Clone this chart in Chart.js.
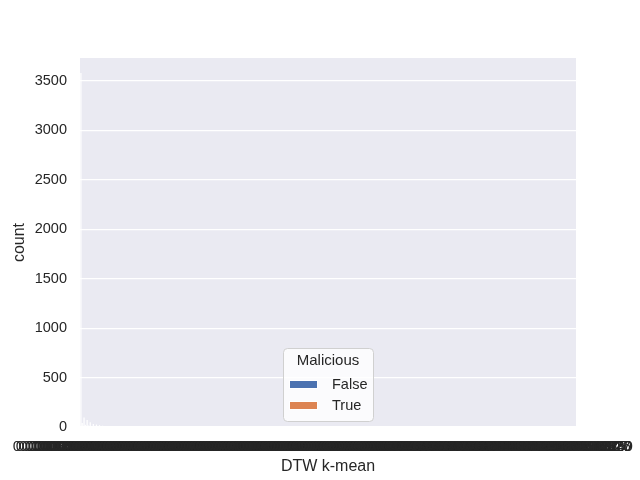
<!DOCTYPE html>
<html><head><meta charset="utf-8">
<script src="https://cdn.jsdelivr.net/npm/chart.js@4.4.1/dist/chart.umd.min.js"></script>
<style>html,body{margin:0;padding:0;background:#fff}canvas{display:block}</style>
</head><body>
<canvas id="c" width="640" height="480"></canvas>
<script>
const categories = [
"0.000000000000000","0.000412587630915","0.000827361904528","0.001245873619284","0.001690452378106",
"0.002318475902163","0.002874106395247","0.003507126834951","0.004136958207413","0.004812369027415",
"0.005391740862853","0.005973412685034","0.006548230197645","0.007124580396217","0.007751064829358",
"0.008369015742836","0.008953702416589","0.009547213068492","0.010108594327617","0.010683427195304",
"0.011792360548129","0.012904715368241","0.013561482907643","0.014237860915472","0.015408273691504",
"0.016583092741165","0.017649381025736","0.018720463159832","0.020031586724913","0.021346907582419",
"0.022630148795267","0.023917460582136","0.025162093847501","0.026408157329684","0.027785630914827",
"0.029163840275913","0.030867259431086","0.032571094863207","0.034198753620419","0.035829461027538",
"0.037502816943275","0.039184702536918","0.040958361720483","0.042736819054326","0.044663205891734",
"0.046592013874125","0.048453897120653","0.050318746290584","0.052610495837216","0.054907132865401",
"0.057083627491058","0.059264813079652","0.061550498236714","0.063841257903146","0.066174036289517",
"0.068513490627839","0.071085729364102","0.073659128043715","0.076333547810624","0.079012846357291",
"0.081683219570348","0.084357920146863","0.087240186395027","0.090126475830492","0.093253860417925",
"0.096384712059376","0.099564839207153","0.102749360821547","0.106165827309412","0.109586214730269",
"0.113206539481726","0.116830472965103","0.120567294013856","0.124307815692748","0.128236750418693",
"0.132168904753216","0.136379028564137","0.140593276108435","0.144903617285049","0.149217063845912",
"0.153927401685273","0.158640932175408","0.163469035286194","0.168302741956831","0.173462015839627",
"0.178625904137582","0.184047362819504","0.189473016285947","0.195142830571629","0.200816395742061",
"0.206786250193847","0.212759380416325","0.219037465128953","0.225318647092153","0.231860927415036",
"0.238406951273864","0.245293627058419","0.252183497605128","0.259375820461937","0.266571039824613",
"0.274151283960427","0.281734692058317","0.289673015842736","0.297615803427169","0.305910275368041",
"0.314208576931042","0.322927651084319","0.331650298417356","0.340737102685493","0.349827613059284",
"0.359380264917503","0.368935071246815","0.378847290563148","0.388764320591723","0.399136508247961",
"0.409512873064189","0.420342795610873","0.431176045982316","0.442481036725948","0.453789216304857",
"0.465548310927364","0.477312058649132","0.48957640291358","0.501846392718504","0.51461738295062",
"0.527391640852973","0.54065430921847","0.553920781364025","0.56767530184926","0.581437065298147",
"0.59570842610937","0.609985312476083","0.62475017398265","0.639520874103659","0.65483106247319",
"0.670143695821734","0.68598271059364","0.701825309467152","0.71821672940385","0.734612958031476",
"0.75154208316927","0.768479213650894","0.78602318475906","0.803571046298315","0.82164309527184",
"0.839720564813297","0.85838120649573","0.877046318592601","0.89628941730526","0.915538027641389",
"0.93536218574093","0.955190734826057","0.97551689240317","0.995847162059324","1.0167305918427",
"1.037614892305716","1.0590738146285","1.08053927614830","1.1026109473820","1.124683015927"
];
const falseCounts = [
3580,95,70,48,30,25,18,12,8,5, 3,2,2,1,1,1,1,1,1,1,
1,1,1,1,1,1,1,1,1,1, 1,1,1,1,1,1,1,1,1,1,
1,1,1,1,1,1,1,1,1,1, 1,1,1,1,1,1,1,1,1,1,
1,1,1,1,1,1,1,1,1,1, 1,1,1,1,1,1,1,1,1,1,
1,1,1,1,1,1,1,1,1,1, 1,1,1,1,1,1,1,1,1,1,
1,1,1,1,1,1,1,1,1,1, 1,1,1,1,1,1,1,1,1,1,
1,1,1,1,1,1,1,1,1,1, 1,1,1,1,1,1,1,1,1,1,
1,1,1,1,1,1,1,1,1,1, 1,1,1,1,1,1,1,1,1,1
];
const trueCounts = [
41,22,15,9,6,4,3,2,1,1, 0,0,0,0,0,0,0,0,0,0,
0,0,0,0,0,0,0,0,0,0, 0,0,0,0,0,0,0,0,0,0,
0,0,0,0,0,0,0,0,0,0, 0,0,0,0,0,0,0,0,0,0,
0,0,0,0,0,0,0,0,0,0, 0,0,0,0,0,0,0,0,0,0,
0,0,0,0,0,0,0,0,0,0, 0,0,0,0,0,0,0,0,0,0,
0,0,0,0,0,0,0,0,0,0, 0,0,0,0,0,0,0,0,0,0,
0,0,0,0,0,0,0,0,0,0, 0,0,0,0,0,0,0,0,0,0,
0,0,0,0,0,0,0,0,0,0, 0,0,0,0,0,0,0,0,0,0
];
const yTicks = [0,500,1000,1500,2000,2500,3000,3500];
const seriesNames = ["False","True"];
const legendTitle = "Malicious";
const legendColors = ["#4c72b0","#dd8452"];

const FONT = '"Liberation Sans", Arial, sans-serif';
const TXT = '#262626';

const bgPlugin = {
  id: 'bg',
  beforeDraw(chart) {
    const {ctx, chartArea: a} = chart;
    ctx.save();
    ctx.fillStyle = '#eaeaf2';
    ctx.fillRect(a.left, a.top, a.right - a.left, a.bottom - a.top);
    ctx.restore();
  }
};

const legendPlugin = {
  id: 'customLegend',
  afterDraw(chart) {
    const ctx = chart.ctx;
    const x = 283, y = 348, w = 90, h = 73, r = 4;
    ctx.save();
    ctx.beginPath();
    ctx.roundRect(x + 0.5, y + 0.5, w, h, r);
    ctx.fillStyle = 'rgba(255,255,255,0.8)';
    ctx.fill();
    ctx.strokeStyle = '#d0d0d0';
    ctx.lineWidth = 1;
    ctx.stroke();
    ctx.fillStyle = TXT;
    ctx.textBaseline = 'middle';
    ctx.textAlign = 'center';
    ctx.font = '15px ' + FONT;
    ctx.fillText(legendTitle, x + w / 2, y + 13);
    chart.data.datasets.forEach((ds, i) => {
      const py = 380 + i * 21;
      ctx.fillStyle = legendColors[i];
      ctx.fillRect(289, py, 29, 9);
      ctx.strokeStyle = '#ffffff';
      ctx.lineWidth = 1;
      ctx.strokeRect(289.5, py + 0.5, 28, 8);
      ctx.fillStyle = TXT;
      ctx.textAlign = 'left';
      ctx.font = '14.5px ' + FONT;
      ctx.fillText(ds.label, 332, py + 5);
    });
    ctx.restore();
  }
};

new Chart(document.getElementById('c'), {
  type: 'bar',
  data: {
    labels: categories,
    datasets: [
      { label: seriesNames[0], data: falseCounts, backgroundColor: '#ffffff', borderWidth: 0,
        categoryPercentage: 0.8, barPercentage: 1.0 },
      { label: seriesNames[1], data: trueCounts, backgroundColor: '#ffffff', borderWidth: 0,
        categoryPercentage: 0.8, barPercentage: 1.0 }
    ]
  },
  options: {
    responsive: false,
    animation: false,
    devicePixelRatio: 1,
    layout: { padding: { left: 0, top: 58, right: 64, bottom: 0 } },
    plugins: { legend: { display: false }, tooltip: { enabled: false }, title: { display: false } },
    scales: {
      x: {
        grid: { display: false },
        border: { display: false },
        ticks: { autoSkip: false, maxRotation: 0, minRotation: 0, color: TXT,
                 font: { family: FONT, size: 15 }, padding: 3 },
        title: { display: true, text: 'DTW k-mean', color: TXT,
                 font: { family: FONT, size: 16 }, padding: { top: 4, bottom: 4 } },
        afterFit(s) { s.height = 53; s.paddingLeft = 0; s.paddingRight = 0; }
      },
      y: {
        min: 0, max: 3733,
        grid: { color: '#ffffff', lineWidth: 1.3, drawTicks: false },
        border: { display: false },
        afterBuildTicks(s) { s.ticks = yTicks.map(v => ({ value: v })); },
        ticks: { color: TXT, font: { family: FONT, size: 14.5 }, padding: 13,
                 callback: (v) => String(v) },
        title: { display: true, text: 'count', color: TXT,
                 font: { family: FONT, size: 16 }, padding: { top: 10, bottom: 4 } },
        afterFit(s) { s.width = 80; s.paddingTop = 0; s.paddingBottom = 0; }
      }
    }
  },
  plugins: [bgPlugin, legendPlugin]
});
</script>
</body></html>
